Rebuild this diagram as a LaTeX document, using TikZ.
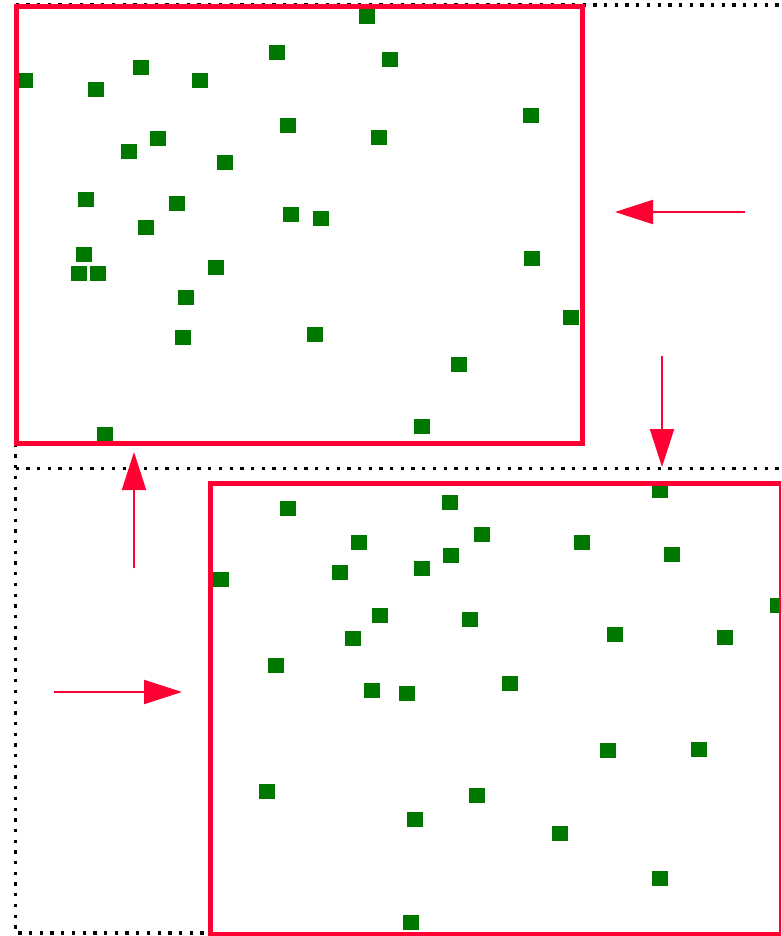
\documentclass[tikz,border=0pt]{standalone}
\usetikzlibrary{arrows.meta}
\definecolor{boxred}{RGB}{255,0,51}
\definecolor{dotgreen}{RGB}{0,120,0}
\tikzset{
  px/.style={x=1pt,y=-1pt},
  sq/.style={fill=dotgreen,draw=none,minimum width=16pt,minimum height=15pt,inner sep=0pt,outer sep=0pt,rectangle},
  frame/.style={draw=boxred,line width=5pt},
  dots/.style={draw=black,line width=3.3pt,dash pattern=on 3.3pt off 7.4pt},
  flow/.style={draw=boxred,line width=2pt,-{Triangle[length=38pt,width=24pt]}}
}
\begin{document}
\begin{tikzpicture}[px]
\useasboundingbox (0,0) rectangle (781,936);
\clip (0,0) rectangle (781,936);
% dotted frames
\draw[dots] (15.5,5) -- (781,5);
\draw[dots] (15.5,5) -- (15.5,933) -- (210,933);
\draw[dots] (15.5,468.5) -- (781,468.5);
% squares top
\foreach \x/\y [count=\i] in {367/17,277/53,390/60,141/68,25/81,200/81,96/90,531/116,288/126,158/139,379/138,129/152,225/163,86/199,177/203,291/214,321/218,146/227,84/254,79/273,98/273,216/267,532/258,186/297,571/317,183/337,315/334,459/364,422/426,105/434}
  \node[sq] (a\i) at (\x,\y) {};
% squares bottom
\foreach \x/\y [count=\i] in {660/490,288/508,450/502,482/534,359/542,582/542,451/555,422/568,672/554,340/572,221/579,778/605,380/615,470/619,615/634,353/638,725/637,276/665,510/683,372/690,407/693,608/750,699/749,267/791,477/795,415/819,560/833,660/878,411/922}
  \node[sq] (b\i) at (\x,\y) {};
% red frames
\draw[frame] (16.5,7) rectangle (582,443);
\draw[frame] (210.5,483) rectangle (781.5,934);
% arrows
\coordinate (r1s) at (745,212); \coordinate (r1e) at (615,212);
\coordinate (r2s) at (662,356); \coordinate (r2e) at (662,467);
\coordinate (r3s) at (134,568); \coordinate (r3e) at (134,452);
\coordinate (r4s) at (54,692);  \coordinate (r4e) at (182,692);
\draw[flow] (r1s) -- (r1e);
\draw[flow] (r2s) -- (r2e);
\draw[flow] (r3s) -- (r3e);
\draw[flow] (r4s) -- (r4e);
\end{tikzpicture}
\end{document}
